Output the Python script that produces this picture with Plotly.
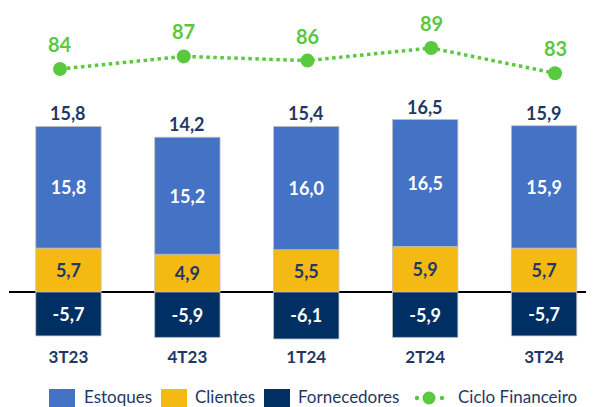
import plotly.graph_objects as go

categories = ["3T23", "4T23", "1T24", "2T24", "3T24"]
estoques = [15.8, 15.2, 16.0, 16.5, 15.9]
clientes = [5.7, 4.9, 5.5, 5.9, 5.7]
fornecedores = [-5.7, -5.9, -6.1, -5.9, -5.7]
ciclo = [84, 87, 86, 89, 83]
totals = [round(e + c + f, 1) for e, c, f in zip(estoques, clientes, fornecedores)]
stack_tops = [e + c for e, c in zip(estoques, clientes)]

BLUE = "#4472C4"
YELLOW = "#F5B914"
NAVY = "#003063"
TXT = "#1F3864"
GREEN = "#5BC93E"
FONT = "Lato"

OFF = 8  # page offset of the figure
W, H = 586, 399
ML, MR, MT, MB = 1, 0, 0, 62
PW = W - ML - MR
PH = H - MT - MB


def fmt(v):
    return f"{v:.1f}".replace(".", ",")


def px(x):
    return (x - OFF - ML) / PW


def py(y):
    return (PH - (y - OFF)) / PH


fig = go.Figure()
outline = dict(color="#BFBFBF", width=0.8)
lab = dict(size=18, family=FONT, weight="bold")
fig.add_bar(x=categories, y=clientes, name="Clientes", marker=dict(color=YELLOW, line=outline),
            text=[fmt(v) for v in clientes], textposition="inside", insidetextanchor="middle",
            textangle=0, textfont=dict(color=TXT, **lab))
fig.add_bar(x=categories, y=estoques, name="Estoques", marker=dict(color=BLUE, line=outline),
            text=[fmt(v) for v in estoques], textposition="inside", insidetextanchor="middle",
            textangle=0, textfont=dict(color="white", **lab))
fig.add_bar(x=categories, y=fornecedores, name="Fornecedores", marker=dict(color=NAVY, line=outline),
            text=[fmt(v) for v in fornecedores], textposition="inside", insidetextanchor="middle",
            textangle=0, textfont=dict(color="white", **lab))
fig.add_scatter(x=categories, y=ciclo, xaxis="x2", yaxis="y2", name="Ciclo Financeiro", mode="lines+markers",
                line=dict(color=GREEN, width=3.5, dash="dot"), marker=dict(color=GREEN, size=14))

annotations = []
for c, top, t in zip(categories, stack_tops, totals):
    annotations.append(dict(x=c, y=top, xref="x", yref="y", text=fmt(t), showarrow=False,
                            yanchor="bottom", yshift=0,
                            font=dict(color=TXT, size=18, family=FONT, weight="bold")))
for c, v in zip(categories, ciclo):
    annotations.append(dict(x=c, y=v, xref="x2", yref="y2", text=str(v), showarrow=False,
                            yanchor="bottom", yshift=11,
                            font=dict(color=GREEN, size=20, family=FONT, weight="bold")))

# manual legend
shapes = []
leg_y_top, leg_y_bot = 389, 411
leg_text_y = 396
items = [("Estoques", BLUE, 49, 82), ("Clientes", YELLOW, 161, 193), ("Fornecedores", NAVY, 264, 296)]
for name, col, sx, tx in items:
    shapes.append(dict(type="rect", xref="paper", yref="paper", x0=px(sx), x1=px(sx + 26),
                       y0=py(leg_y_bot), y1=py(leg_y_top), fillcolor=col, line=dict(width=0), layer="above"))
    annotations.append(dict(x=px(tx), y=py(leg_text_y), xref="paper", yref="paper", text=name,
                            showarrow=False, xanchor="left", yanchor="middle",
                            font=dict(color=TXT, size=17, family=FONT)))
for cx, r in [(417, 2.2), (429, 6.5), (442, 2.2)]:
    shapes.append(dict(type="circle", xref="paper", yref="paper", x0=px(cx - r), x1=px(cx + r),
                       y0=py(398 + r), y1=py(398 - r), fillcolor=GREEN,
                       line=dict(width=0), layer="above"))
annotations.append(dict(x=px(456), y=py(leg_text_y), xref="paper", yref="paper", text="Ciclo Financeiro",
                        showarrow=False, xanchor="left", yanchor="middle",
                        font=dict(color=TXT, size=17, family=FONT)))

zero_px = 292 - OFF
ppu = 7.7
line_step = 123.75
line_first = 60 - OFF - ML
fig.update_layout(
    width=W, height=H, margin=dict(l=ML, r=MR, t=MT, b=MB),
    plot_bgcolor="white", paper_bgcolor="white",
    barmode="relative", bargap=0.45, showlegend=False,
    xaxis=dict(range=[-0.5, 4.42], showgrid=False, showline=False, ticks="",
               tickfont=dict(color=TXT, size=17, family=FONT, weight="bold")),
    xaxis2=dict(range=[-line_first / line_step, (PW - line_first) / line_step],
                overlaying="x", visible=False),
    yaxis=dict(range=[-(PH - zero_px) / ppu, zero_px / ppu], visible=True, showgrid=False,
               showticklabels=False, zeroline=True, zerolinecolor="black", zerolinewidth=1.5, ticks=""),
    yaxis2=dict(range=[84 - (PH - (69 - OFF)) / 4.2, 84 + (69 - OFF) / 4.2], overlaying="y", visible=False),
    annotations=annotations, shapes=shapes,
    font=dict(family=FONT),
)

fig.write_html("out.html")
